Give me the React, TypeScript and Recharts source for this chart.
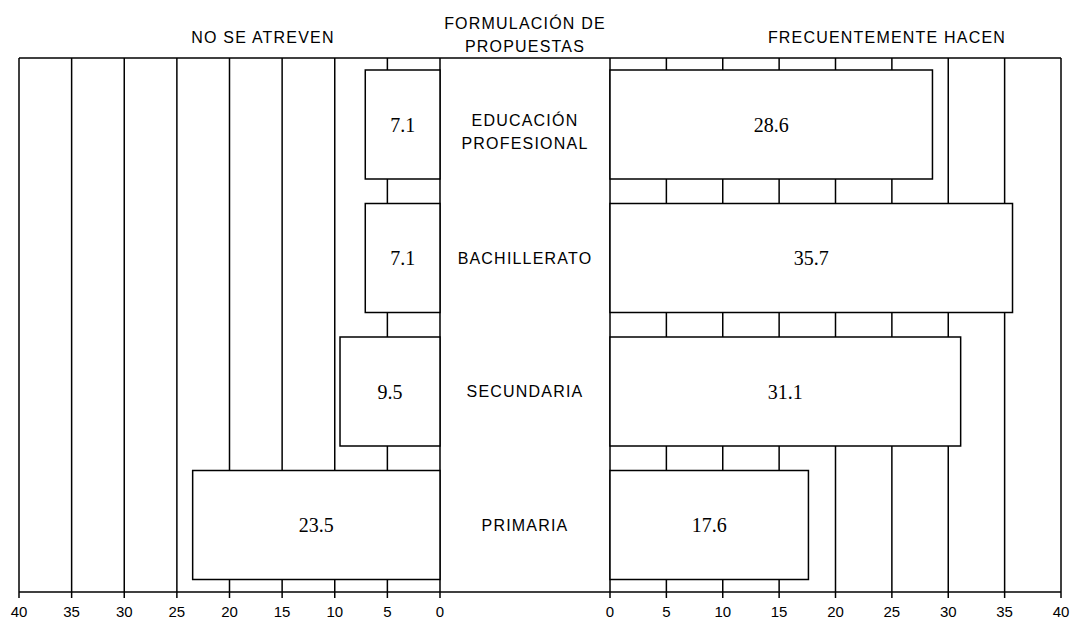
import React from 'react';
import { BarChart, Bar, XAxis, YAxis, CartesianGrid, LabelList } from 'recharts';

// Formulación de propuestas, por nivel educativo (%)
const categories = ['EDUCACIÓN\nPROFESIONAL', 'BACHILLERATO', 'SECUNDARIA', 'PRIMARIA'];
const noSeAtreven = [7.1, 7.1, 9.5, 23.5];
const frecuentementeHacen = [28.6, 35.7, 31.1, 17.6];
const xTicks = [0, 5, 10, 15, 20, 25, 30, 35, 40];

const data = categories.map((cat, i) => ({ cat, left: noSeAtreven[i], right: frecuentementeHacen[i] }));

const SANS = 'Arial, "Liberation Sans", sans-serif';
const SERIF = '"Times New Roman", "Liberation Serif", serif';
const CENTER_W = 170;

const CategoryTick = (props: any) => {
  const { x, y, payload } = props;
  const lines = String(payload.value).split('\n');
  const shift = lines.length > 1 ? 7 : 0;
  return (
    <g>
      {lines.map((ln, i) => (
        <text key={i} x={x + CENTER_W / 2} y={y + (i - (lines.length - 1) / 2) * 23 + shift}
          textAnchor="middle" dominantBaseline="central" fontFamily={SANS} fontSize={16}
          letterSpacing={1.2} fill="#000">{ln}</text>
      ))}
    </g>
  );
};

const axisProps = {
  type: 'number' as const,
  domain: [0, 40],
  ticks: xTicks,
  interval: 0 as const,
  height: 26,
  tickSize: 6,
  tickMargin: 8,
  axisLine: { stroke: '#000', strokeWidth: 1.5 },
  tickLine: { stroke: '#000', strokeWidth: 1.5 },
  tick: { fill: '#000', fontSize: 15, fontFamily: SANS },
};

export default function App() {
  return (
    <div style={{ position: 'absolute', left: 0, top: 0, width: 1070, height: 624, background: '#fff' }}>
      <div style={{ position: 'absolute', left: 0, top: 0 }}>
        <BarChart width={610} height={624} data={data} layout="vertical" barCategoryGap="9%"
          margin={{ top: 58, right: 0, left: 19, bottom: 6 }}>
          <CartesianGrid horizontal={false} stroke="#000" strokeWidth={1.5} />
          <XAxis {...axisProps} reversed />
          <YAxis type="category" dataKey="cat" orientation="right" width={CENTER_W}
            axisLine={false} tickLine={false} tickSize={0} tickMargin={0} tick={<CategoryTick />} />
          <Bar dataKey="left" fill="#fff" stroke="#000" strokeWidth={1.5} isAnimationActive={false}>
            <LabelList dataKey="left" position="center" fill="#000" fontFamily={SERIF} fontSize={20} />
          </Bar>
        </BarChart>
      </div>
      <div style={{ position: 'absolute', left: 590, top: 0 }}>
        <BarChart width={480} height={624} data={data} layout="vertical" barCategoryGap="9%"
          margin={{ top: 58, right: 9, left: 20, bottom: 6 }}>
          <CartesianGrid horizontal={false} stroke="#000" strokeWidth={1.5} />
          <XAxis {...axisProps} />
          <YAxis type="category" dataKey="cat" hide />
          <Bar dataKey="right" fill="#fff" stroke="#000" strokeWidth={1.5} isAnimationActive={false}>
            <LabelList dataKey="right" position="center" fill="#000" fontFamily={SERIF} fontSize={20} />
          </Bar>
        </BarChart>
      </div>
      <svg width={1070} height={624} style={{ position: 'absolute', left: 0, top: 0, pointerEvents: 'none' }}>
        <line x1={19} x2={1061} y1={58} y2={58} stroke="#000" strokeWidth={1.5} />
        <line x1={440} x2={610} y1={592} y2={592} stroke="#000" strokeWidth={1.5} />
        <g fontFamily={SANS} fontSize={16} letterSpacing={1.2} fill="#000" textAnchor="middle" dominantBaseline="central">
          <text x={263} y={37}>NO SE ATREVEN</text>
          <text x={525} y={23}>FORMULACIÓN DE</text>
          <text x={525} y={46}>PROPUESTAS</text>
          <text x={887} y={37}>FRECUENTEMENTE HACEN</text>
        </g>
      </svg>
    </div>
  );
}
